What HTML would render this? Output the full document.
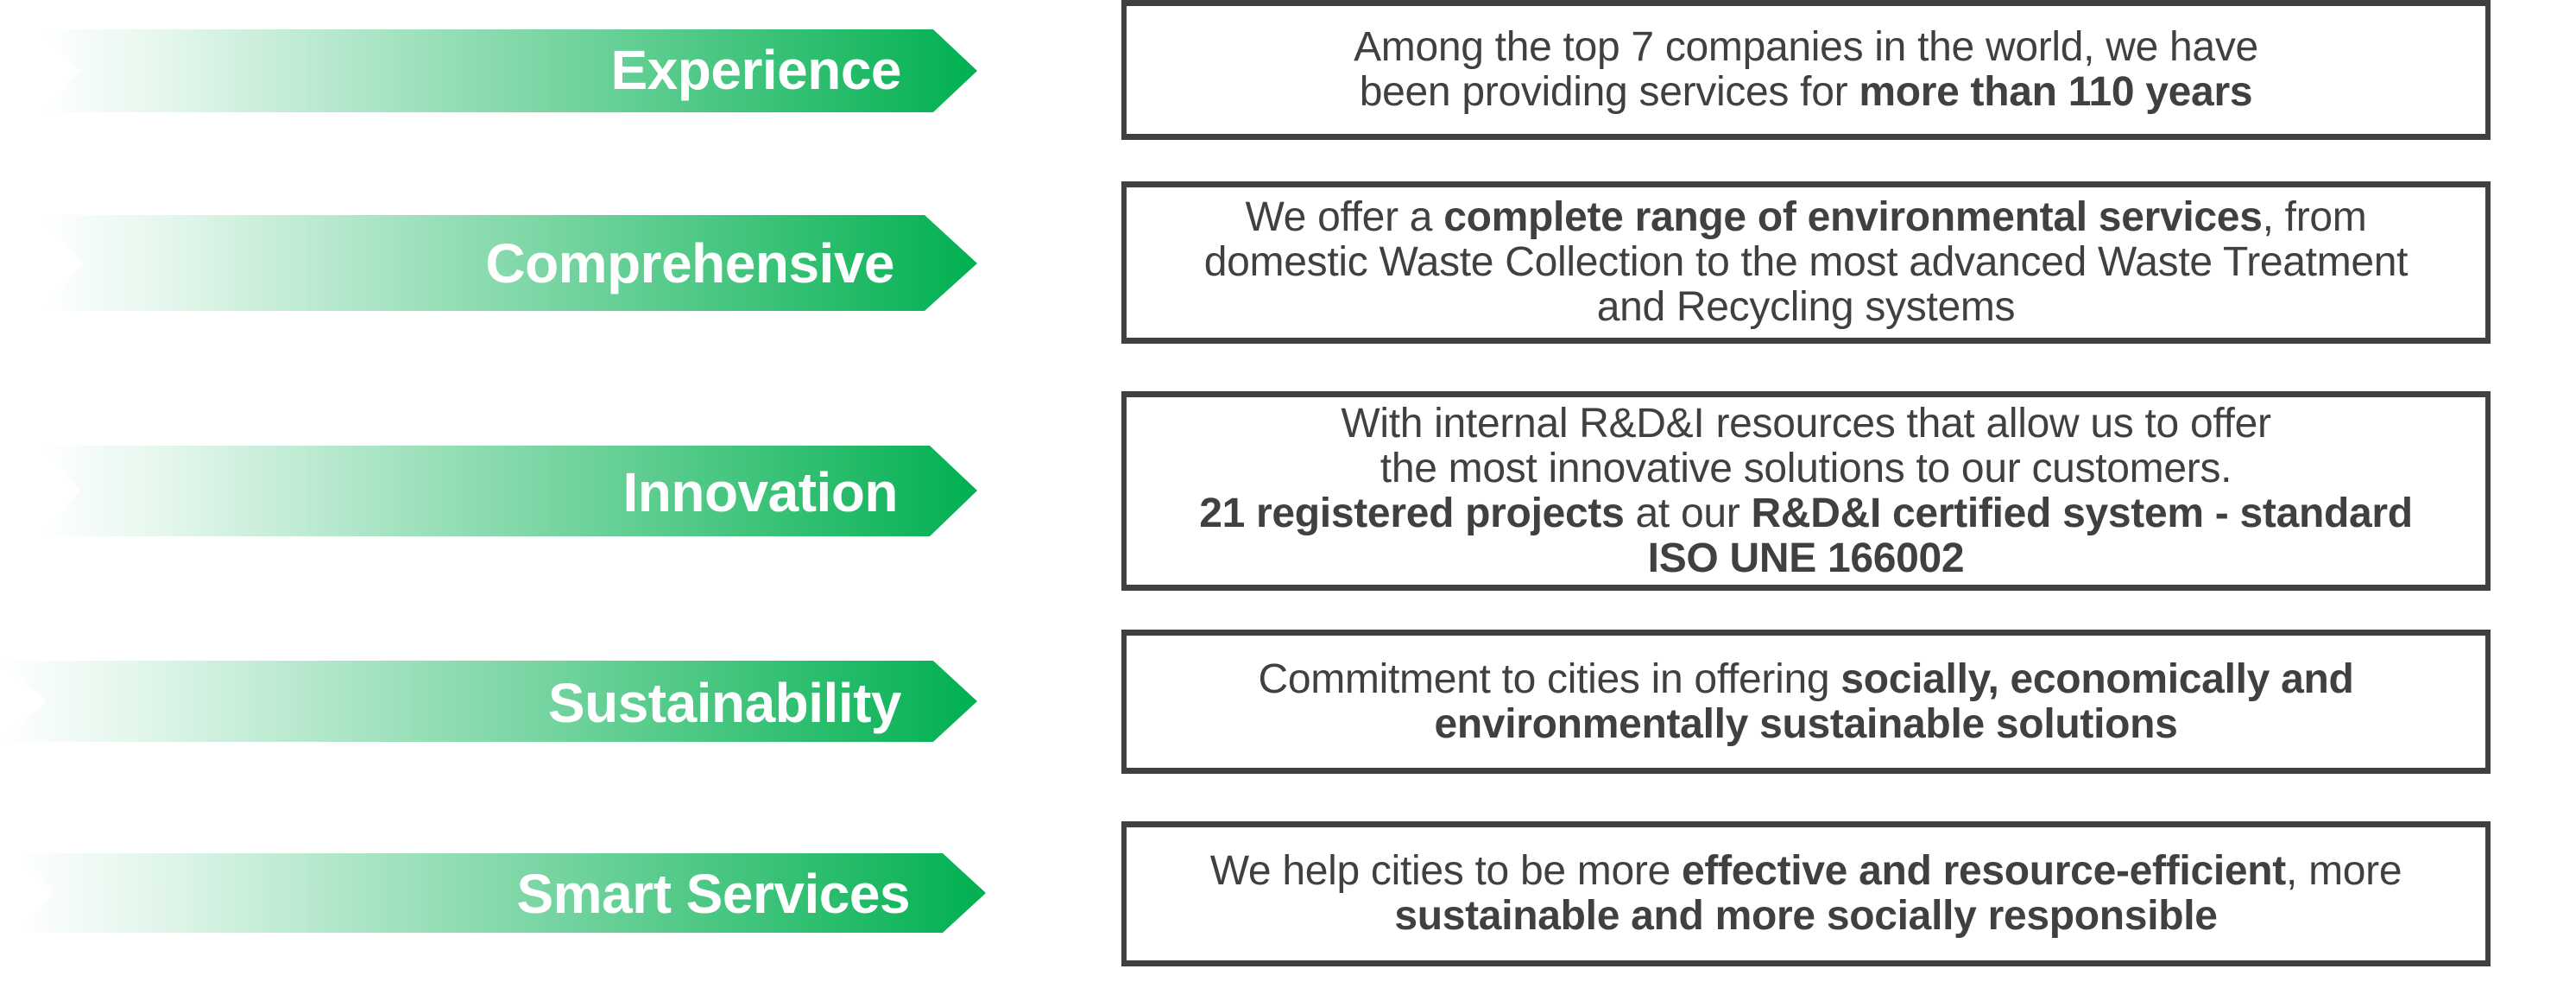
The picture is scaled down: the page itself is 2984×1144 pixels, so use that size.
<!DOCTYPE html>
<html><head><meta charset="utf-8"><style>
html,body{margin:0;padding:0;background:#fff;width:2984px;height:1144px;overflow:hidden;position:relative;font-family:"Liberation Sans",Arial,sans-serif}
.box{position:absolute;left:1299px;width:1586px;box-sizing:border-box;border:6px solid #404040;border-top-width:7px;border-bottom-width:7px;display:flex;align-items:center;justify-content:center;text-align:center;color:#404040;font-size:48px;line-height:52px;letter-spacing:-0.3px}
.box b{font-weight:bold}
svg{position:absolute;left:0;top:0}
.lbl{position:absolute;color:#fff;font-weight:bold;font-size:64px;text-align:right;white-space:nowrap;letter-spacing:-0.5px}
</style></head><body>
<svg width="1200" height="1144">
<defs><linearGradient id="g" x1="0" x2="1" y1="0" y2="0">
<stop offset="0" stop-color="#00b050" stop-opacity="0"/>
<stop offset="0.15" stop-color="#00b050" stop-opacity="0.12"/>
<stop offset="1" stop-color="#00b050"/></linearGradient></defs>
<polygon points="48,34 1081,34 1132,82 1081,130 48,130 92,82" fill="url(#g)"/>
<polygon points="48,249 1071,249 1132,305 1071,360 48,360 96,305" fill="url(#g)"/>
<polygon points="48,516 1077,516 1132,568 1077,621 48,621 92,568" fill="url(#g)"/>
<polygon points="0,765 1081,765 1132,812 1081,859 0,859 54,812" fill="url(#g)"/>
<polygon points="19,988 1092,988 1142,1034 1092,1080 19,1080 61,1034" fill="url(#g)"/>
</svg>
<div class="lbl" style="right:1940px;top:44px">Experience</div>
<div class="lbl" style="right:1948px;top:268px">Comprehensive</div>
<div class="lbl" style="right:1944px;top:533px">Innovation</div>
<div class="lbl" style="right:1940px;top:777px">Sustainability</div>
<div class="lbl" style="right:1930px;top:998px">Smart Services</div>

<div class="box" style="top:0;height:162px"><div>Among the top 7 companies in the world, we have<br>been providing services for <b>more than 110 years</b></div></div>
<div class="box" style="top:210px;height:188px"><div>We offer a <b>complete range of environmental services</b>, from<br>domestic Waste Collection to the most advanced Waste Treatment<br>and Recycling systems</div></div>
<div class="box" style="top:453px;height:231px"><div>With internal R&amp;D&amp;I resources that allow us to offer<br>the most innovative solutions to our customers.<br><b>21 registered projects</b> at our <b>R&amp;D&amp;I certified system - standard<br>ISO UNE 166002</b></div></div>
<div class="box" style="top:729px;height:167px"><div>Commitment to cities in offering <b>socially, economically and<br>environmentally sustainable solutions</b></div></div>
<div class="box" style="top:951px;height:168px"><div>We help cities to be more <b>effective and resource-efficient</b>, more<br><b>sustainable and more socially responsible</b></div></div>
</body></html>
